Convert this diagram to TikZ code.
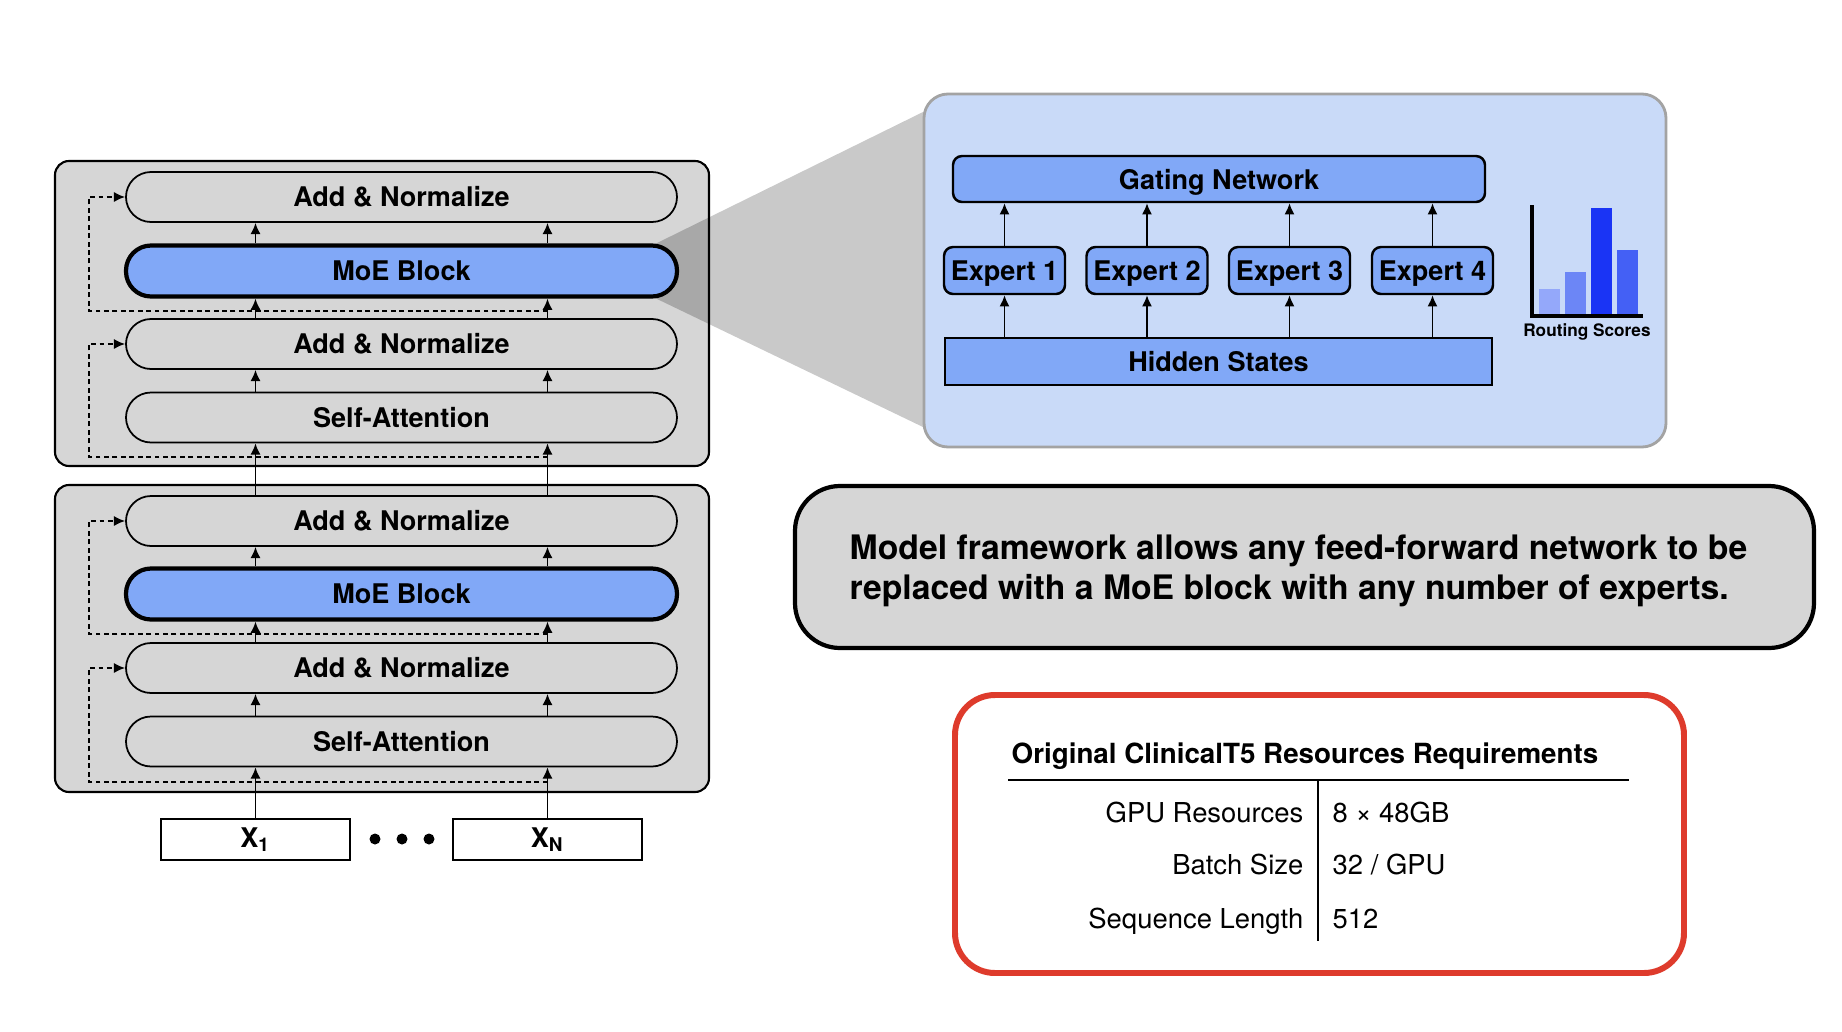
\documentclass[tikz,border=0pt]{standalone}
\usepackage{fontspec}
\setmainfont{TeX Gyre Heros}
\usetikzlibrary{arrows.meta,positioning,calc}

\definecolor{boxgray}{HTML}{D6D6D6}
\definecolor{moeblue}{HTML}{81A8F7}
\definecolor{panelblue}{HTML}{C9DAF8}
\definecolor{panelline}{HTML}{A3A3A3}
\definecolor{roughred}{HTML}{DE3B2C}
\definecolor{barA}{HTML}{94A8FA}
\definecolor{barB}{HTML}{6C86F6}
\definecolor{barC}{HTML}{1A34F5}
\definecolor{barD}{HTML}{4460F5}

\tikzset{
	lbl/.style={font=\fontsize{7.7}{9}\selectfont\bfseries},
	layer/.style={draw, line width=0.5pt, fill=boxgray, rounded corners=2.5mm, minimum width=5.51cm, minimum height=5mm, inner sep=0pt, lbl},
	moe/.style={layer, fill=moeblue, line width=1.2pt, minimum height=5.1mm},
	stack/.style={draw, line width=0.6pt, fill=boxgray, rounded corners=1.4mm},
	tok/.style={draw, line width=0.6pt, fill=white, minimum width=1.89cm, minimum height=4.1mm, inner sep=0pt, lbl},
	flow/.style={-{Latex[length=3.2pt,width=2.9pt]}, line width=0.5pt},
	skip/.style={flow, dashed, dash pattern=on 1.4pt off 1pt},
	bluebox/.style={draw, line width=0.7pt, fill=moeblue, inner sep=0pt, text depth=0pt, lbl},
	cell/.style={font=\fontsize{7.8}{9}\selectfont, inner sep=0pt},
}

\begin{document}
\begin{tikzpicture}[x=0.1mm, y=-0.1mm]
	\path[use as bounding box, fill=white] (0,0) rectangle (1842,1032);

	% two encoder stacks
	\draw[stack] (55,161) rectangle (709,466);
	\draw[stack] (55,485) rectangle (709,792);

	% zoom cone towards the MoE panel
	\fill[black, fill opacity=0.21] (655,244) -- (923,112) -- (923,427) -- (655,298) -- cycle;

	\node[layer] (an4) at (401.5,197) {Add \& Normalize};
	\node[moe] (moe2) at (401.5,271) {MoE Block};
	\node[layer] (an3) at (401.5,344) {Add \& Normalize};
	\node[layer] (sa2) at (401.5,417.5) {Self-Attention};

	\node[layer] (an2) at (401.5,521) {Add \& Normalize};
	\node[moe] (moe1) at (401.5,594) {MoE Block};
	\node[layer] (an1) at (401.5,668) {Add \& Normalize};
	\node[layer] (sa1) at (401.5,741.5) {Self-Attention};

	\node[tok] (x1) at (255.5,839.5) {X\textsubscript{1}};
	\node[tok] (xn) at (547.5,839.5) {X\textsubscript{N}};
	\fill (375,839) circle (0.55mm) (402,839) circle (0.55mm) (429,839) circle (0.55mm);

	\draw[flow] (x1.north) -- (x1.north |- sa1.south);
	\draw[flow] (xn.north) -- (xn.north |- sa1.south);
	\draw[flow] (x1 |- sa1.north) -- (x1 |- an1.south);
	\draw[flow] (xn |- sa1.north) -- (xn |- an1.south);
	\draw[flow] (x1 |- an1.north) -- (x1 |- moe1.south);
	\draw[flow] (xn |- an1.north) -- (xn |- moe1.south);
	\draw[flow] (x1 |- moe1.north) -- (x1 |- an2.south);
	\draw[flow] (xn |- moe1.north) -- (xn |- an2.south);
	\draw[flow] (x1 |- an2.north) -- (x1 |- sa2.south);
	\draw[flow] (xn |- an2.north) -- (xn |- sa2.south);
	\draw[flow] (x1 |- sa2.north) -- (x1 |- an3.south);
	\draw[flow] (xn |- sa2.north) -- (xn |- an3.south);
	\draw[flow] (x1 |- an3.north) -- (x1 |- moe2.south);
	\draw[flow] (xn |- an3.north) -- (xn |- moe2.south);
	\draw[flow] (x1 |- moe2.north) -- (x1 |- an4.south);
	\draw[flow] (xn |- moe2.north) -- (xn |- an4.south);

	% residual connections
	\coordinate (tap1) at (89,782);
	\coordinate (tap2) at (89,634);
	\coordinate (tap3) at (89,457);
	\coordinate (tap4) at (89,311);
	\draw[skip] (xn |- tap1) -- (tap1) |- (an1.west);
	\draw[skip] (xn |- tap2) -- (tap2) |- (an2.west);
	\draw[skip] (xn |- tap3) -- (tap3) |- (an3.west);
	\draw[skip] (xn |- tap4) -- (tap4) |- (an4.west);

	% MoE panel
	\draw[panelline, fill=panelblue, line width=0.8pt, rounded corners=2.4mm] (924,94) rectangle (1666,447);

	\node[bluebox, rounded corners=0.9mm, minimum width=5.32cm, minimum height=4.6mm] (gate) at (1219,179) {Gating Network};
	\node[bluebox, rounded corners=0.9mm, minimum width=1.21cm, minimum height=4.7mm] (e1) at (1004.5,270.5) {Expert 1};
	\node[bluebox, rounded corners=0.9mm, minimum width=1.21cm, minimum height=4.7mm] (e2) at (1147,270.5) {Expert 2};
	\node[bluebox, rounded corners=0.9mm, minimum width=1.21cm, minimum height=4.7mm] (e3) at (1289.5,270.5) {Expert 3};
	\node[bluebox, rounded corners=0.9mm, minimum width=1.21cm, minimum height=4.7mm] (e4) at (1432.5,270.5) {Expert 4};
	\node[bluebox, minimum width=5.47cm, minimum height=4.7mm] (hid) at (1218.5,361.5) {Hidden States};

	\draw[flow] (hid.north -| e1) -- (e1.south);
	\draw[flow] (hid.north -| e2) -- (e2.south);
	\draw[flow] (hid.north -| e3) -- (e3.south);
	\draw[flow] (hid.north -| e4) -- (e4.south);
	\draw[flow] (e1.north) -- (e1 |- gate.south);
	\draw[flow] (e2.north) -- (e2 |- gate.south);
	\draw[flow] (e3.north) -- (e3 |- gate.south);
	\draw[flow] (e4.north) -- (e4 |- gate.south);

	% routing scores chart
	\fill[barA] (1539,289) rectangle (1560,314);
	\fill[barB] (1565,272) rectangle (1586,314);
	\fill[barC] (1591,208) rectangle (1612,314);
	\fill[barD] (1617,250) rectangle (1638,314);
	\draw[line width=0.9pt] (1532,205) -- (1532,316) -- (1643,316);
	\node[font=\fontsize{4.9}{6}\selectfont\bfseries, anchor=base] (rscore) at (1587,336) {Routing Scores};

	% callout
	\node[draw, line width=1.2pt, fill=boxgray, rounded corners=4.5mm, minimum width=10.19cm, minimum height=1.62cm] (note) at (1304.5,567) {};
	\node[anchor=west, inner sep=0pt, align=left, font=\fontsize{9.6}{11.4}\selectfont\bfseries] (msg) at (849,571)
		{Model framework allows any feed-forward network to be\\replaced with a MoE block with any number of experts.};

	% resources table
	\node[draw=roughred, line width=1.7pt, rounded corners=4mm, minimum width=7.29cm, minimum height=2.78cm] (req) at (1319.5,834) {};
	\node[font=\fontsize{7.9}{9}\selectfont\bfseries, anchor=base] (reqtitle) at (1305,763) {Original ClinicalT5 Resources Requirements};
	\draw[line width=0.5pt] (1008,780) -- (1629,780);
	\draw[line width=0.5pt] (1318,780) -- (1318,941);
	\node[cell, anchor=base east] (gpuL) at (1304,822) {GPU Resources};
	\node[cell, anchor=base west] (gpuV) at (1332,822) {8 × 48GB};
	\node[cell, anchor=base east] (batchL) at (1304,874) {Batch Size};
	\node[cell, anchor=base west] (batchV) at (1332,874) {32 / GPU};
	\node[cell, anchor=base east] (seqL) at (1304,928) {Sequence Length};
	\node[cell, anchor=base west] (seqV) at (1332,928) {512};
\end{tikzpicture}
\end{document}
